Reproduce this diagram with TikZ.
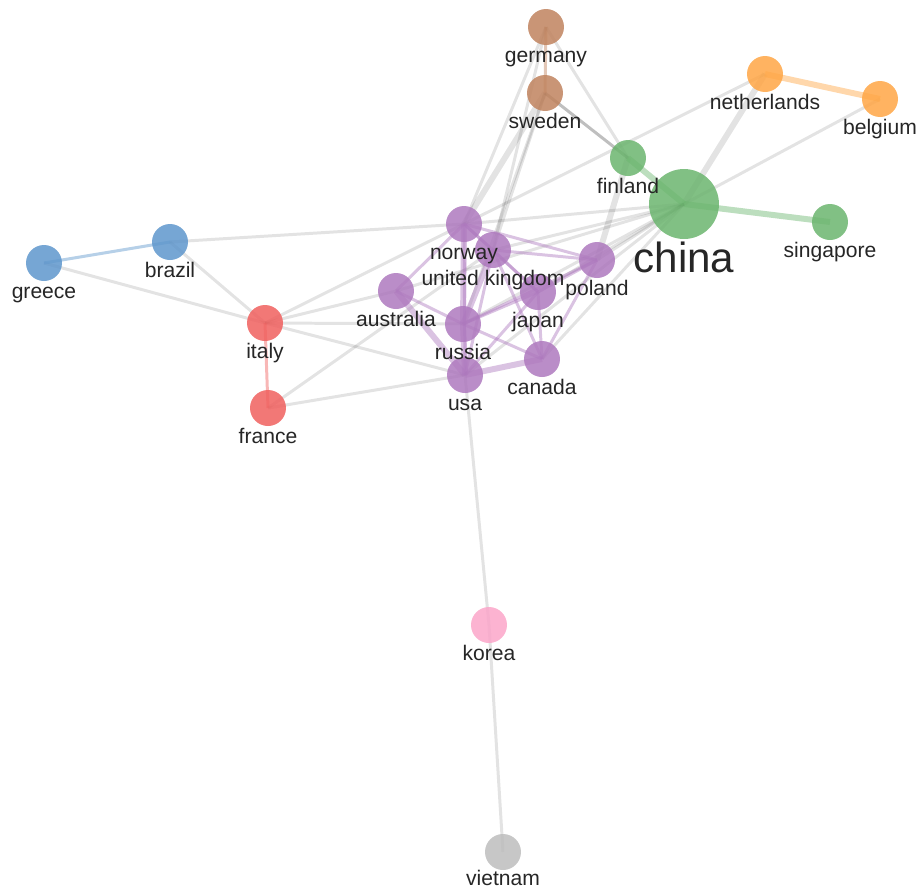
\documentclass[tikz,border=0pt]{standalone}
\usepackage{fontspec}
\setmainfont{Liberation Sans}
\usetikzlibrary{positioning}
\pgfdeclarelayer{background}
\pgfsetlayers{background,main}
\definecolor{cblue}{HTML}{5E96CC}
\definecolor{cred}{HTML}{F0605E}
\definecolor{cpurple}{HTML}{AE79BE}
\definecolor{cgreen}{HTML}{6BB56E}
\definecolor{corange}{HTML}{FFA645}
\definecolor{cbrown}{HTML}{C0835E}
\definecolor{cpink}{HTML}{FBA6C9}
\definecolor{cgrey}{HTML}{BDBDBD}
\tikzset{
  country/.style={circle,minimum size=0.72cm,inner sep=0pt,fill=#1,fill opacity=0.85},
  lbl/.style={font=\fontsize{12}{14}\selectfont,text=black!85,inner sep=0pt,
    text height=8.7pt,text depth=2.2pt},
  biglbl/.style={font=\fontsize{24}{28}\selectfont,text=black!85,inner sep=0pt,
    text height=17.5pt,text depth=1pt},
  link/.style={line width=1.7pt,draw=black,draw opacity=0.11},
  tie/.style={line width=1.7pt,draw=#1,draw opacity=0.45},
  fat/.style={line width=3.4pt}
}

\begin{document}
\begin{tikzpicture}[x=0.02cm,y=-0.02cm]
		\useasboundingbox (0,0) rectangle (921,890);
		%Top
		\node[country=cbrown] (germany) at (546,27) {};
		\node[country=cbrown] (sweden) at (545,93) {};
		\node[country=corange] (netherlands) at (765,74) {};
		\node[country=corange] (belgium) at (880,99) {};
		\node[country=cgreen] (finland) at (628,158) {};
		\node[country=cgreen,minimum size=1.4cm] (china) at (684,204) {};
		\node[country=cgreen] (singapore) at (830,222) {};
		%Middle
		\node[country=cpurple] (norway) at (464,224) {};
		\node[country=cpurple] (uk) at (493,250) {};
		\node[country=cpurple] (poland) at (597,260) {};
		\node[country=cpurple] (australia) at (396,291) {};
		\node[country=cpurple] (japan) at (538,292) {};
		\node[country=cpurple] (russia) at (463,324) {};
		\node[country=cpurple] (canada) at (542,359) {};
		\node[country=cpurple] (usa) at (465,375) {};
		%Left
		\node[country=cblue] (greece) at (44,263) {};
		\node[country=cblue] (brazil) at (170,242) {};
		\node[country=cred] (italy) at (265,323) {};
		\node[country=cred] (france) at (268,408) {};
		%Bottom
		\node[country=cpink] (korea) at (489,625) {};
		\node[country=cgrey] (vietnam) at (503,852) {};

		%Labels
		\node[lbl,below=1pt of germany] (germany-l) {germany};
		\node[lbl,below=1pt of sweden] (sweden-l) {sweden};
		\node[lbl,below=1pt of netherlands] (netherlands-l) {netherlands};
		\node[lbl,below=1pt of belgium] (belgium-l) {belgium};
		\node[lbl,below=1pt of finland] (finland-l) {finland};
		\node[biglbl,below=1pt of china] (china-l) {china};
		\node[lbl,below=1pt of singapore] (singapore-l) {singapore};
		\node[lbl,below=1pt of norway] (norway-l) {norway};
		\node[lbl,below=1pt of uk] (uk-l) {united kingdom};
		\node[lbl,below=1pt of poland] (poland-l) {poland};
		\node[lbl,below=1pt of australia] (australia-l) {australia};
		\node[lbl,below=1pt of japan] (japan-l) {japan};
		\node[lbl,below=1pt of russia] (russia-l) {russia};
		\node[lbl,below=1pt of canada] (canada-l) {canada};
		\node[lbl,below=1pt of usa] (usa-l) {usa};
		\node[lbl,below=1pt of greece] (greece-l) {greece};
		\node[lbl,below=1pt of brazil] (brazil-l) {brazil};
		\node[lbl,below=1pt of italy] (italy-l) {italy};
		\node[lbl,below=1pt of france] (france-l) {france};
		\node[lbl,below=1pt of korea] (korea-l) {korea};
		\node[lbl,below=0pt of vietnam] (vietnam-l) {vietnam};

		\begin{pgfonlayer}{background}
		%Grey links
		\draw[link] (greece.center)--(italy.center);
		\draw[link] (brazil.center)--(italy.center);
		\draw[link] (brazil.center)--(norway.center);
		\draw[link] (italy.center)--(norway.center);
		\draw[link] (italy.center)--(australia.center);
		\draw[link] (italy.center)--(russia.center);
		\draw[link] (italy.center)--(usa.center);
		\draw[link] (france.center)--(uk.center);
		\draw[link] (france.center)--(usa.center);
		\draw[link] (usa.center)--(korea.center);
		\draw[link] (korea.center)--(vietnam.center);
		\draw[link] (germany.center)--(norway.center);
		\draw[link] (germany.center)--(uk.center);
		\draw[link] (germany.center)--(finland.center);
		\draw[link,fat] (sweden.center)--(norway.center);
		\draw[link] (sweden.center)--(uk.center);
		\draw[link] (sweden.center)--(russia.center);
		\draw[link,draw opacity=0.25] (sweden.center)--(finland.center);
		\draw[link,fat] (netherlands.center)--(china.center);
		\draw[link] (netherlands.center)--(norway.center);
		\draw[link] (belgium.center)--(china.center);
		\draw[link,fat] (finland.center)--(poland.center);
		\draw[link] (china.center)--(norway.center);
		\draw[link] (china.center)--(uk.center);
		\draw[link] (china.center)--(australia.center);
		\draw[link] (china.center)--(russia.center);
		\draw[link] (china.center)--(usa.center);
		\draw[link] (china.center)--(poland.center);
		\draw[link] (china.center)--(japan.center);
		\draw[link] (china.center)--(canada.center);
		%Group links
		\draw[tie=cblue] (greece.center)--(brazil.center);
		\draw[tie=cred] (italy.center)--(france.center);
		\draw[tie=cbrown] (germany.center)--(sweden.center);
		\draw[tie=corange,fat] (netherlands.center)--(belgium.center);
		\draw[tie=cgreen,fat] (finland.center)--(china.center);
		\draw[tie=cgreen,fat] (china.center)--(singapore.center);
		%Purple links
		\draw[tie=cpurple] (norway.center)--(uk.center);
		\draw[tie=cpurple] (norway.center)--(poland.center);
		\draw[tie=cpurple,fat] (norway.center)--(russia.center);
		\draw[tie=cpurple] (norway.center)--(usa.center);
		\draw[tie=cpurple] (norway.center)--(australia.center);
		\draw[tie=cpurple] (norway.center)--(japan.center);
		\draw[tie=cpurple] (uk.center)--(poland.center);
		\draw[tie=cpurple,fat] (uk.center)--(russia.center);
		\draw[tie=cpurple] (uk.center)--(usa.center);
		\draw[tie=cpurple] (uk.center)--(japan.center);
		\draw[tie=cpurple] (uk.center)--(canada.center);
		\draw[tie=cpurple,fat] (australia.center)--(usa.center);
		\draw[tie=cpurple] (australia.center)--(russia.center);
		\draw[tie=cpurple] (russia.center)--(japan.center);
		\draw[tie=cpurple] (russia.center)--(poland.center);
		\draw[tie=cpurple] (russia.center)--(canada.center);
		\draw[tie=cpurple,fat] (russia.center)--(usa.center);
		\draw[tie=cpurple,fat] (usa.center)--(canada.center);
		\draw[tie=cpurple] (usa.center)--(japan.center);
		\draw[tie=cpurple] (japan.center)--(poland.center);
		\draw[tie=cpurple] (japan.center)--(canada.center);
		\draw[tie=cpurple] (poland.center)--(canada.center);
		\end{pgfonlayer}
\end{tikzpicture}
\end{document}
